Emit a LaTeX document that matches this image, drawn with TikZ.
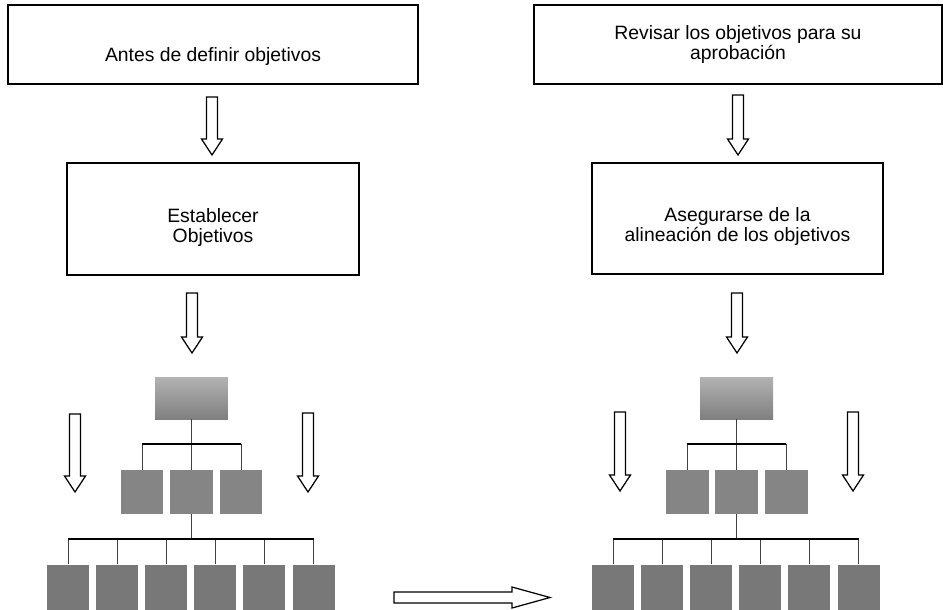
\documentclass[tikz,border=0pt]{standalone}
\usepackage{fontspec}
\setmainfont{Liberation Sans}
\usepackage{tikz}
\usetikzlibrary{positioning}
\usepackage{xcolor}

\tikzset{
  caja/.style={draw, line width=0.8pt, align=center, inner sep=0pt,
    font=\fontsize{11}{11.5}\selectfont},
  jefe/.style={top color=black!30, bottom color=black!50, minimum width=1.46cm, minimum height=0.84cm, inner sep=0pt},
  medio/.style={fill=black!48, minimum width=0.86cm, minimum height=0.88cm, inner sep=0pt},
  base/.style={fill=black!53, minimum width=0.84cm, minimum height=0.9cm, inner sep=0pt},
  rama/.style={line width=0.5pt, black!75},
  barra/.style={line width=1.1pt},
  flecha/.style={draw, line width=0.7pt, fill=white}
}
\newcommand{\flechaabajo}[3]{\draw[flecha] (#1-5.5,#2) -- (#1+5.5,#2) -- (#1+5.5,#3-16) -- (#1+10.5,#3-16) -- (#1,#3) -- (#1-10.5,#3-16) -- (#1-5.5,#3-16) -- cycle;}

\begin{document}
\begin{tikzpicture}[x=0.02cm, y=-0.02cm]
\useasboundingbox (0,0) rectangle (943,609);

% cajas de texto
\node[caja, minimum width=8.2cm, minimum height=1.58cm, text height=21.5pt, text depth=2.5pt] (antes) at (213,44.5) {Antes de definir objetivos};
\node[caja, minimum width=5.84cm, minimum height=2.24cm, text height=29pt] (establecer) at (213,219) {Establecer\\Objetivos};
\node[caja, minimum width=8.16cm, minimum height=1.58cm] (revisar) at (738,44.5) {Revisar los objetivos para su\\aprobaci\'on};
\node[caja, minimum width=5.82cm, minimum height=2.22cm, text height=28.5pt] (asegurar) at (737.5,218.5) {Asegurarse de la\\alineaci\'on de los objetivos};

% organigramas
\foreach \lado/\dx in {i/0, d/545}{
  \node[jefe] (\lado0) at (191.5+\dx,398) {};
  \foreach \i/\xx in {1/142, 2/191.5, 3/241}
    \node[medio] (\lado1\i) at (\xx+\dx,492) {};
  \foreach \i in {1,...,6}
    \node[base] (\lado2\i) at (68+49.1*\i-49.1+\dx,587) {};
  \coordinate (\lado-b1) at (0,444);
  \coordinate (\lado-b2) at (0,539);
  \draw[rama] (\lado0) -- (\lado12);
  \draw[rama] (\lado11.north) -- (\lado11.north |- \lado-b1);
  \draw[rama] (\lado13.north) -- (\lado13.north |- \lado-b1);
  \draw[barra] (\lado11.north |- \lado-b1) -- (\lado13.north |- \lado-b1);
  \draw[rama] (\lado12.south) -- (\lado12.south |- \lado-b2);
  \foreach \i in {1,...,6}
    \draw[rama] (\lado2\i.north) -- (\lado2\i.north |- \lado-b2);
  \draw[barra] (\lado21.north |- \lado-b2) -- (\lado26.north |- \lado-b2);
}

% flechas
\flechaabajo{212}{97}{155}
\flechaabajo{738}{95}{155}
\flechaabajo{192}{293}{353}
\flechaabajo{737}{293}{353}
\flechaabajo{75}{414}{492}
\flechaabajo{308}{413}{492}
\flechaabajo{620}{412}{491}
\flechaabajo{853}{412}{491}
\draw[flecha] (394,592) -- (512,592) -- (512,587) -- (550,597.5) -- (512,608) -- (512,603) -- (394,603) -- cycle;
\end{tikzpicture}
\end{document}
